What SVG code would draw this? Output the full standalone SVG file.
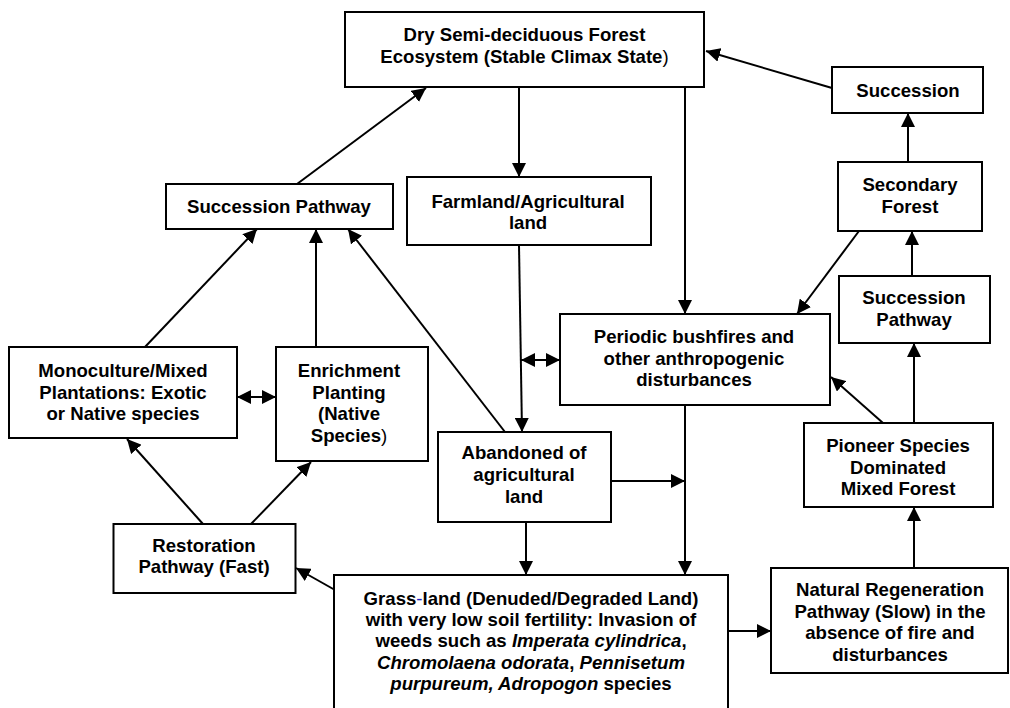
<svg xmlns="http://www.w3.org/2000/svg" width="1010" height="708" viewBox="0 0 1010 708">
<defs>
<marker id="ah" markerUnits="userSpaceOnUse" markerWidth="15" markerHeight="14" refX="14" refY="7" orient="auto-start-reverse" viewBox="0 0 15 14">
<path d="M0,0 L14,7 L0,14 z" fill="#000"/>
</marker>
<style>
.box{fill:#fff;stroke:#000;stroke-width:2}
.t{font-family:"Liberation Sans",Arial,sans-serif;font-weight:bold;font-size:18.6px;fill:#000;text-anchor:middle}
.c{stroke:#000;stroke-width:2;fill:none}
.a{marker-end:url(#ah)}
.d{marker-start:url(#ah);marker-end:url(#ah)}
.i{font-style:italic}
.n{font-weight:normal}
</style>
</defs>
<rect width="1010" height="708" fill="#fff"/>
<g id="connectors">
<line class="c a" x1="519" y1="87" x2="519" y2="177"/>
<line class="c a" x1="685" y1="87" x2="685" y2="314"/>
<line class="c a" x1="832" y1="88" x2="706" y2="51"/>
<line class="c a" x1="908" y1="162" x2="908" y2="113"/>
<line class="c a" x1="912" y1="276" x2="912" y2="231"/>
<line class="c a" x1="859" y1="231" x2="797" y2="314"/>
<line class="c a" x1="914" y1="423" x2="914" y2="343"/>
<line class="c a" x1="883" y1="423" x2="831" y2="377"/>
<line class="c a" x1="914" y1="568" x2="914" y2="507"/>
<line class="c a" x1="728" y1="631" x2="771" y2="631"/>
<line class="c a" x1="519" y1="245" x2="522" y2="432"/>
<line class="c d" x1="521" y1="360" x2="560" y2="360"/>
<line class="c a" x1="611" y1="481" x2="685" y2="481"/>
<line class="c a" x1="685" y1="405" x2="685" y2="575"/>
<line class="c a" x1="526" y1="522" x2="526" y2="575"/>
<line class="c a" x1="335" y1="590" x2="296" y2="568"/>
<line class="c a" x1="203" y1="524" x2="127" y2="439"/>
<line class="c a" x1="251" y1="524" x2="311" y2="462"/>
<line class="c d" x1="237" y1="397" x2="276" y2="397"/>
<line class="c a" x1="145" y1="347" x2="257" y2="229"/>
<line class="c a" x1="316" y1="347" x2="316" y2="229"/>
<line class="c a" x1="505" y1="432" x2="348" y2="229"/>
<line class="c a" x1="297" y1="184" x2="426" y2="88"/>
</g>
<g id="climax">
<rect class="box" x="345" y="12" width="359" height="75"/>
<text class="t" x="524.5" y="41">Dry Semi-deciduous Forest</text>
<text class="t" x="524.5" y="63">Ecosystem (Stable Climax State<tspan class="n">)</tspan></text>
</g>
<g id="succession">
<rect class="box" x="832" y="67" width="151" height="46"/>
<text class="t" x="908" y="97">Succession</text>
</g>
<g id="secondary">
<rect class="box" x="838" y="162" width="144" height="69"/>
<text class="t" x="910" y="191">Secondary</text>
<text class="t" x="910" y="213">Forest</text>
</g>
<g id="succession-pathway-right">
<rect class="box" x="839" y="276" width="151" height="67"/>
<text class="t" x="914" y="304">Succession</text>
<text class="t" x="914" y="326">Pathway</text>
</g>
<g id="farmland">
<rect class="box" x="407" y="177" width="244" height="68"/>
<text class="t" x="528" y="208">Farmland/Agricultural</text>
<text class="t" x="528" y="229">land</text>
</g>
<g id="periodic">
<rect class="box" x="560" y="314" width="270" height="91"/>
<text class="t" x="694" y="343">Periodic bushfires and</text>
<text class="t" x="694" y="364.5">other anthropogenic</text>
<text class="t" x="694" y="386">disturbances</text>
</g>
<g id="succession-pathway-left">
<rect class="box" x="166" y="184" width="227" height="45"/>
<text class="t" x="279" y="213">Succession Pathway</text>
</g>
<g id="monoculture">
<rect class="box" x="9" y="347" width="228" height="91"/>
<text class="t" x="123" y="377">Monoculture/Mixed</text>
<text class="t" x="123" y="398.5">Plantations: Exotic</text>
<text class="t" x="123" y="420">or Native species</text>
</g>
<g id="enrichment">
<rect class="box" x="276" y="347" width="152" height="114"/>
<text class="t" x="349" y="377">Enrichment</text>
<text class="t" x="349" y="398.5">Planting</text>
<text class="t" x="349" y="420">(Native</text>
<text class="t" x="349" y="441.5">Species<tspan class="n">)</tspan></text>
</g>
<g id="abandoned">
<rect class="box" x="438" y="432" width="173" height="90"/>
<text class="t" x="524" y="459">Abandoned of</text>
<text class="t" x="524" y="481">agricultural</text>
<text class="t" x="524" y="503">land</text>
</g>
<g id="pioneer">
<rect class="box" x="804" y="423" width="189" height="84"/>
<text class="t" x="898" y="452">Pioneer Species</text>
<text class="t" x="898" y="473.5">Dominated</text>
<text class="t" x="898" y="495">Mixed Forest</text>
</g>
<g id="restoration">
<rect class="box" x="113.5" y="524" width="182" height="69"/>
<text class="t" x="204" y="552">Restoration</text>
<text class="t" x="204" y="573">Pathway (Fast)</text>
</g>
<g id="grassland">
<rect class="box" x="334" y="575" width="394" height="145"/>
<text class="t" x="531" y="604.5">Grass<tspan class="n" fill="#2020c0">-</tspan>land (Denuded/Degraded Land)</text>
<text class="t" x="531" y="626">with very low soil fertility: Invasion of</text>
<text class="t" x="531" y="647">weeds such as <tspan class="i">Imperata cylindrica</tspan>,</text>
<text class="t" x="531" y="668.5"><tspan class="i">Chromolaena odorata</tspan>, <tspan class="i">Pennisetum</tspan></text>
<text class="t" x="531" y="690"><tspan class="i">purpureum, Adropogon</tspan> species</text>
</g>
<g id="natural-regeneration">
<rect class="box" x="771" y="568" width="237" height="105"/>
<text class="t" x="890" y="596">Natural Regeneration</text>
<text class="t" x="890" y="618">Pathway (Slow) in the</text>
<text class="t" x="890" y="639">absence of fire and</text>
<text class="t" x="890" y="661">disturbances</text>
</g>
</svg>
